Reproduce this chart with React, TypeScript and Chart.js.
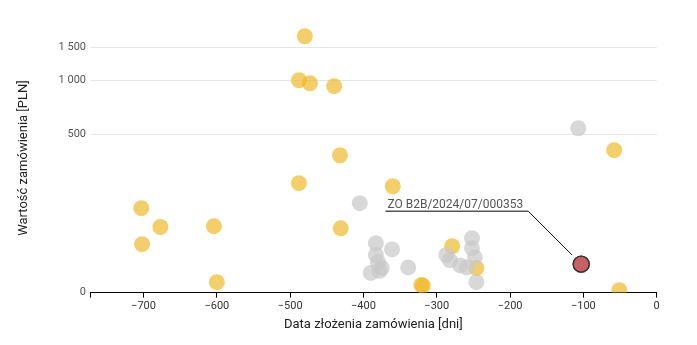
import React, { useEffect, useRef } from "react";
import { Chart, registerables, LinearScale } from "chart.js";

Chart.register(...registerables);

// ---- data ----
const grayX = [-107, -405, -383, -361, -383, -380, -390, -375, -378, -339, -287, -282, -268, -252, -252, -248, -259, -246];
const grayY = [542, 175, 75, 63, 53, 41, 25, 32, 28, 33, 53, 44, 36, 85, 65, 49, 33, 12.5];

const yellowX = [-480, -488, -473, -440, -432, -488, -360, -703, -677, -604, -431, -702, -279, -246, -600, -321, -319, -58, -51];
const yellowY = [1718, 1005, 968, 933, 373, 245, 233, 160, 110, 112, 107, 73, 69, 32, 12.5, 9, 8, 401, 2.7];

const highlightX = [-103];
const highlightY = [38];
const highlightLabel = "ZO B2B/2024/07/000353";

const yTicks = [0, 500, 1000, 1500];
const xMin = -773;
const xMax = 0;
const yMin = 0;
const yMax = 2000;
const yConst = 100;

const xTitle = "Data złożenia zamówienia [dni]";
const yTitle = "Wartość zamówienia [PLN]";

const FONT = "Roboto, 'Liberation Sans', Arial, sans-serif";

const f = (v: number) => Math.log(1 + v / yConst);

class SymlogScale extends (LinearScale as any) {
  static id = "symlog";
  static defaults = (LinearScale as any).defaults;
  buildTicks() {
    return yTicks.map((v) => ({ value: v }));
  }
  getPixelForValue(value: number) {
    const a = f(this.min);
    const b = f(this.max);
    return this.getPixelForDecimal((f(value) - a) / (b - a));
  }
  getValueForPixel(pixel: number) {
    const a = f(this.min);
    const b = f(this.max);
    const d = this.getDecimalForPixel(pixel);
    return yConst * (Math.exp(a + d * (b - a)) - 1);
  }
}
Chart.register(SymlogScale as any);

const toPts = (xs: number[], ys: number[]) => xs.map((x, i) => ({ x, y: ys[i] }));

const fmtThousands = (v: number) => {
  const s = String(Math.abs(v)).replace(/\B(?=(\d{3})+(?!\d))/g, " ");
  return (v < 0 ? "\u2212" : "") + s;
};

const annotationPlugin = {
  id: "hlAnnotation",
  afterDatasetsDraw(chart: any) {
    const meta = chart.getDatasetMeta(2);
    if (!meta || !meta.data[0]) return;
    const pt = meta.data[0];
    const px = pt.x;
    const py = pt.y;
    const ctx = chart.ctx;
    ctx.save();
    ctx.font = `12px ${FONT}`;
    const tw = ctx.measureText(highlightLabel).width;
    const endX = px - 53;
    const endY = py - 53;
    const startX = endX - tw - 7;
    // diagonal
    ctx.strokeStyle = "#111";
    ctx.lineWidth = 1;
    ctx.beginPath();
    ctx.moveTo(endX, endY);
    ctx.lineTo(px - 9, py - 9);
    ctx.stroke();
    // underline
    ctx.strokeStyle = "#555";
    ctx.lineWidth = 1.5;
    ctx.beginPath();
    ctx.moveTo(startX, endY);
    ctx.lineTo(endX, endY);
    ctx.stroke();
    // text
    ctx.fillStyle = "#555";
    ctx.textAlign = "left";
    ctx.textBaseline = "alphabetic";
    ctx.fillText(highlightLabel, startX + 2, endY - 3);
    ctx.restore();
    // redraw the point on top
    pt.draw(ctx, chart.chartArea);
  },
};

export default function App() {
  const ref = useRef<HTMLCanvasElement>(null);
  useEffect(() => {
    document.body.style.margin = "0";
    if (!ref.current) return;
    Chart.defaults.font.family = FONT;
    const chart = new Chart(ref.current, {
      type: "scatter",
      data: {
        datasets: [
          {
            data: toPts(grayX, grayY),
            backgroundColor: "rgba(200,200,200,0.7)",
            borderWidth: 0,
            pointRadius: 8,
            clip: 0,
          },
          {
            data: toPts(yellowX, yellowY),
            backgroundColor: "rgba(240,185,40,0.7)",
            borderWidth: 0,
            pointRadius: 8,
            clip: 0,
          },
          {
            data: toPts(highlightX, highlightY),
            backgroundColor: "#c86262",
            borderColor: "#333",
            borderWidth: 1.3,
            pointRadius: 8,
            clip: 0,
          },
        ],
      },
      options: {
        animation: false,
        responsive: false,
        events: [],
        layout: { padding: { top: 23.5, right: 40.3, bottom: 0, left: 0 } },
        plugins: { legend: { display: false }, tooltip: { enabled: false } },
        scales: {
          x: {
            type: "linear",
            min: xMin,
            max: xMax,
            afterFit: (s: any) => {
              s.height = 52.4;
            },
            ticks: {
              stepSize: 100,
              autoSkip: false,
              maxRotation: 0,
              padding: 2,
              color: "#333",
              font: { size: 11 },
              callback: (v: any) => (Number(v) % 100 === 0 ? fmtThousands(Number(v)) : ""),
            },
            grid: { drawOnChartArea: false, drawTicks: true, tickLength: 5, color: "#000" },
            border: { color: "#000", width: 1 },
            title: {
              display: true,
              text: xTitle,
              color: "#222",
              font: { size: 13 },
              padding: { top: 0, bottom: 12 },
            },
          },
          y: {
            type: "symlog" as any,
            min: yMin,
            max: yMax,
            afterFit: (s: any) => {
              s.width = 90;
            },
            ticks: {
              padding: 4,
              color: "#555",
              font: { size: 11 },
              callback: (v: any) => fmtThousands(Number(v)),
            },
            grid: { color: "#e6e6e6", drawTicks: false },
            border: { display: false },
            title: {
              display: true,
              text: yTitle,
              color: "#222",
              font: { size: 13 },
              padding: { top: 16, bottom: 0 },
            },
          },
        },
      } as any,
      plugins: [annotationPlugin],
    });
    return () => chart.destroy();
  }, []);
  return <canvas ref={ref} width={697} height={345} />;
}
